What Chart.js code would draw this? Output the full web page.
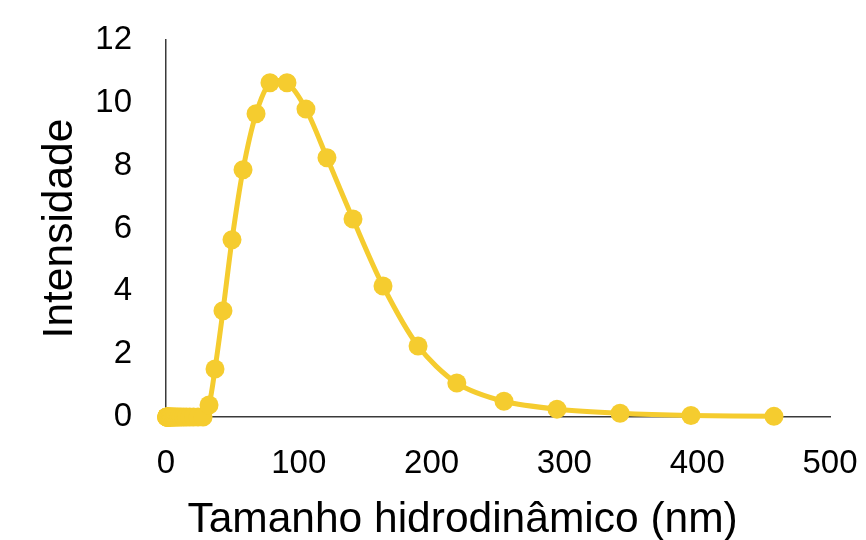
<!DOCTYPE html>
<html>
<head>
<meta charset="utf-8">
<script src="https://cdn.jsdelivr.net/npm/chart.js@4"></script>
<style>
  html, body { margin: 0; padding: 0; background: #fff; }
</style>
</head>
<body>
<canvas id="chart" width="866" height="540"></canvas>
<script>
// Tamanho hidrodinâmico (nm) vs intensidade
const tamanho = [
    0.43, 0.5, 0.58, 0.67, 0.78, 0.9, 1.05, 1.2, 1.4, 1.6,
    1.9, 2.2, 2.6, 3.0, 3.5, 4.0, 4.7, 5.4, 6.3, 7.3,
    8.5, 9.87, 11.4, 13.3, 15.4, 17.9, 20.7, 24.1, 27.9,
    32.4, 36.9, 42.9, 49.7, 58, 67.8, 78.3, 91.1, 105.4, 121.2,
    140.8, 163.4, 189.8, 219, 254.5, 294.4, 341.9, 395.3, 457.8
];
const intensidade = [
    0, 0, 0, 0, 0, 0, 0, 0, 0, 0,
    0, 0, 0, 0, 0, 0, 0, 0, 0, 0,
    0, 0, 0, 0, 0, 0, 0, 0, 0,
    0.38, 1.53, 3.38, 5.64, 7.87, 9.65, 10.64, 10.64, 9.8, 8.25,
    6.3, 4.17, 2.26, 1.08, 0.5, 0.25, 0.12, 0.05, 0.02
];
const xTicks = [0, 100, 200, 300, 400, 500];
const yTicks = [0, 2, 4, 6, 8, 10, 12];

const FONT = '"Liberation Sans", Arial, sans-serif';
const YELLOW = '#F5CC2F';

const points = tamanho.map((x, i) => ({ x: x, y: intensidade[i] }));

// keep the plot area exactly where the layout padding puts it
function noScalePadding(scale) {
    scale.paddingTop = 0;
    scale.paddingBottom = 0;
    scale.paddingLeft = 0;
    scale.paddingRight = 0;
}

const ctx = document.getElementById('chart').getContext('2d');
new Chart(ctx, {
    type: 'scatter',
    data: {
        datasets: [{
            data: points,
            showLine: true,
            borderColor: YELLOW,
            backgroundColor: YELLOW,
            borderWidth: 5,
            pointRadius: 9.5,
            pointBorderWidth: 0,
            tension: 0.3,
            clip: false
        }]
    },
    options: {
        responsive: false,
        animation: false,
        layout: { padding: { left: 0, right: 36, top: 40, bottom: 0 } },
        plugins: {
            legend: { display: false },
            tooltip: { enabled: false }
        },
        scales: {
            x: {
                type: 'linear',
                min: xTicks[0],
                max: xTicks[xTicks.length - 1],
                afterFit: (scale) => { scale.height = 123; noScalePadding(scale); },
                afterBuildTicks: (scale) => { scale.ticks = xTicks.map(v => ({ value: v })); },
                grid: { display: false, drawTicks: false },
                border: { display: true, color: '#3a3a3a', width: 1.5 },
                ticks: { color: '#000', padding: 27, font: { family: FONT, size: 33 } },
                title: {
                    display: true,
                    // trailing spaces pull the centred title left, as in the original
                    text: 'Tamanho hidrodinâmico (nm)      ',
                    color: '#000',
                    padding: { top: 0, bottom: 0 },
                    font: { family: FONT, size: 42.5, lineHeight: 0.95 }
                }
            },
            y: {
                min: yTicks[0],
                max: yTicks[yTicks.length - 1],
                afterFit: (scale) => { scale.width = 166; noScalePadding(scale); },
                afterBuildTicks: (scale) => { scale.ticks = yTicks.map(v => ({ value: v })); },
                grid: { display: false, drawTicks: false },
                border: { display: true, color: '#3a3a3a', width: 1.5 },
                ticks: { color: '#000', padding: 34, font: { family: FONT, size: 33 } },
                title: {
                    display: true,
                    text: 'Intensidade',
                    color: '#000',
                    padding: { top: 35, bottom: 0 },
                    font: { family: FONT, size: 42.5 }
                }
            }
        }
    }
});
</script>
</body>
</html>
